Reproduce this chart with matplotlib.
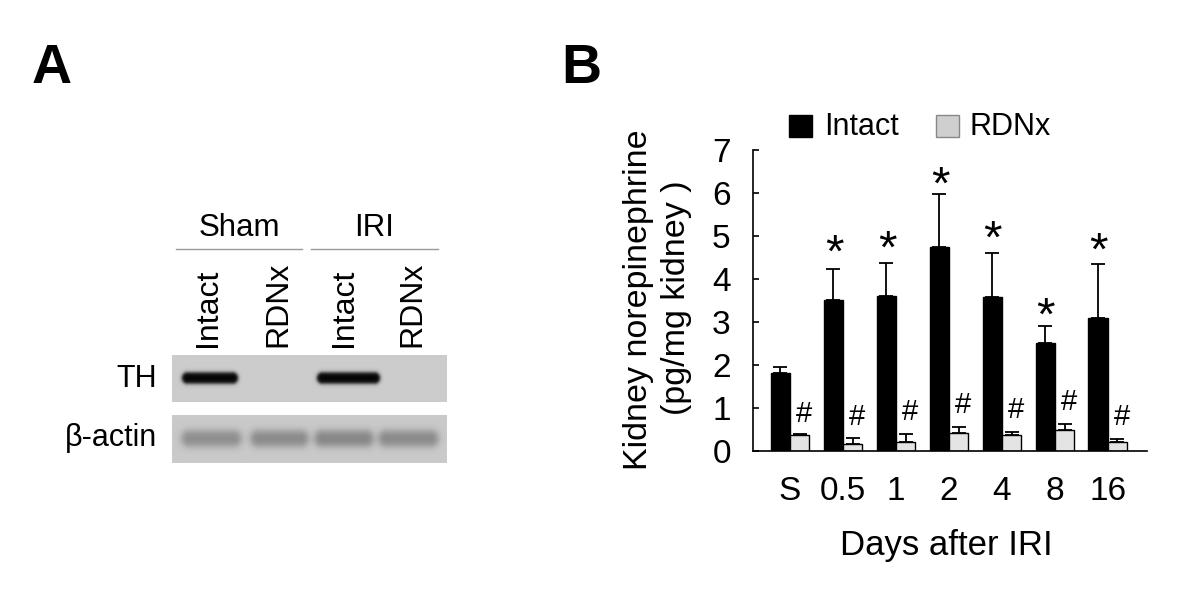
import numpy as np
import matplotlib
matplotlib.use("Agg")
import matplotlib.pyplot as plt
from matplotlib.patches import Rectangle

plt.rcParams['font.family'] = ['Liberation Sans', 'DejaVu Sans']

# ---------------- data ----------------
days = ["S", "0.5", "1", "2", "4", "8", "16"]
intact_mean = [1.81, 3.51, 3.60, 4.74, 3.58, 2.51, 3.09]
intact_err = [0.15, 0.73, 0.77, 1.23, 1.03, 0.39, 1.26]
rdnx_mean = [0.37, 0.17, 0.21, 0.42, 0.38, 0.49, 0.20]
rdnx_err = [0.02, 0.14, 0.18, 0.14, 0.06, 0.14, 0.08]
star_y = [None, 4.79, 4.88, 6.38, 5.11, 3.33, 4.84]
hash_y = [0.90, 0.83, 0.94, 1.11, 0.98, 1.17, 0.83]
series_names = ["Intact", "RDNx"]
y_ticks = [0, 1, 2, 3, 4, 5, 6, 7]

blot_groups = ["Sham", "IRI"]
blot_lanes = ["Intact", "RDNx", "Intact", "RDNx"]
th_intensity = [1.0, 0.0, 1.0, 0.0]
actin_intensity = [0.30, 0.32, 0.34, 0.32]

W, H = 1200, 591
fig = plt.figure(figsize=(W / 100, H / 100), dpi=100)


def fx(x):
    return x / W


def fy(y):
    return 1 - y / H


def rect(x0, y0, x1, y1):
    return [fx(x0), fy(y1), fx(x1) - fx(x0), fy(y0) - fy(y1)]


# ---------------- panel labels ----------------
fig.text(fx(32), fy(83), "A", fontsize=40, fontweight="bold", ha="left", va="baseline")
fig.text(fx(561), fy(83), "B", fontsize=40, fontweight="bold", ha="left", va="baseline")


# ---------------- panel A: blot ----------------
def make_strip(width_px, height_px, lanes, intensities, half_h, soft, base, dark):
    xs = np.arange(width_px)[None, :] + 0.5
    ys = np.arange(height_px)[:, None] + 0.5
    img = np.full((height_px, width_px), base, dtype=float)
    yc = height_px / 2.0
    for (l0, l1), inten in zip(lanes, intensities):
        if inten <= 0:
            continue
        xc = (l0 + l1) / 2.0
        hw = (l1 - l0) / 2.0
        d = np.maximum(0, np.abs(xs - xc) - (hw - half_h))
        r = np.sqrt(d ** 2 + (ys - yc) ** 2)
        prof = 1 / (1 + np.exp(-(half_h - r) / soft))
        img = img - inten * (base - dark) * prof
    return img


strip_left, strip_right = 172, 447
th_lanes = [(182, 238), (252, 307), (317, 380), (382, 437)]
th_rel = [(a - strip_left, b - strip_left) for a, b in th_lanes]
img_th = make_strip(strip_right - strip_left, 402 - 355, th_rel, th_intensity,
                    5.5, 1.0, 0.80, 0.02)
ax_th = fig.add_axes(rect(strip_left, 355, strip_right, 402))
ax_th.imshow(img_th, cmap="gray", vmin=0, vmax=1, aspect="auto", interpolation="bilinear")
ax_th.axis("off")

actin_lanes = [(182, 241), (251, 308), (315, 373), (379, 438)]
ac_rel = [(a - strip_left, b - strip_left) for a, b in actin_lanes]
img_ac = make_strip(strip_right - strip_left, 463 - 415, ac_rel, actin_intensity,
                    7.5, 2.2, 0.79, 0.0)
ax_ac = fig.add_axes(rect(strip_left, 415, strip_right, 463))
ax_ac.imshow(img_ac, cmap="gray", vmin=0, vmax=1, aspect="auto", interpolation="bilinear")
ax_ac.axis("off")

fig.text(fx(157), fy(379), "TH", fontsize=22, ha="right", va="center")
fig.text(fx(157), fy(438), "β-actin", fontsize=22, ha="right", va="center")

group_spans = [(176, 302), (311, 438)]
for name, (a, b) in zip(blot_groups, group_spans):
    fig.text(fx((a + b) / 2), fy(228), name, fontsize=22.5, ha="center", va="center")
    fig.add_artist(plt.Line2D([fx(a), fx(b)], [fy(249), fy(249)], color="#999999", lw=1.0))

lane_x = [208, 278, 344, 412]
for name, x in zip(blot_lanes, lane_x):
    fig.text(fx(x), fy(347), name, fontsize=23, rotation=90, ha="center", va="bottom")

# ---------------- panel B: bars ----------------
ax = fig.add_axes(rect(753, 150, 1147, 451))
x = np.arange(len(days))
bw = 0.365
ax.bar(x - bw / 2, intact_mean, bw, color="black", edgecolor="black", lw=1.0, zorder=2)
ax.bar(x + bw / 2, rdnx_mean, bw, color="#e4e4e4", edgecolor="black", lw=1.0, zorder=2)
ax.errorbar(x - bw / 2, intact_mean, yerr=[np.zeros(len(x)), intact_err], fmt="none",
            ecolor="black", elinewidth=1.3, capsize=5, capthick=1.3, zorder=1)
ax.errorbar(x + bw / 2, rdnx_mean, yerr=[np.zeros(len(x)), rdnx_err], fmt="none",
            ecolor="black", elinewidth=1.3, capsize=5, capthick=1.3, zorder=3)

for i, sy in enumerate(star_y):
    if sy is not None:
        ax.annotate("*", (x[i] - bw / 2, sy), xytext=(0.5, -7), textcoords="offset points",
                    fontsize=34, ha="center", va="center")
for i, hy in enumerate(hash_y):
    ax.annotate("#", (x[i] + bw / 2 + 0.08, hy), xytext=(0, -1), textcoords="offset points",
                fontsize=21, ha="center", va="center")

ax.set_xlim(-0.70, 6.74)
ax.set_ylim(0, 7)
ax.set_yticks(y_ticks)
ax.set_yticklabels([str(v) for v in y_ticks])
ax.set_xticks(x)
ax.set_xticklabels(days)
ax.tick_params(axis="y", direction="in", length=4, width=1.2, labelsize=24, pad=16)
ax.tick_params(axis="x", length=0, labelsize=24, pad=18)
for s in ["top", "right"]:
    ax.spines[s].set_visible(False)
for s in ["left", "bottom"]:
    ax.spines[s].set_linewidth(1.2)

fig.text(fx(946), fy(545), "Days after IRI", fontsize=25, ha="center", va="center")
fig.text(fx(638), fy(300), "Kidney norepinephrine", fontsize=24.5, rotation=90,
         ha="center", va="center")
fig.text(fx(677), fy(298), "(pg/mg kidney )", fontsize=24.5, rotation=90,
         ha="center", va="center")

# legend
fig.add_artist(Rectangle((fx(789), fy(137)), fx(23), 22 / H, facecolor="black",
                         edgecolor="black", lw=1.0, transform=fig.transFigure))
fig.text(fx(824), fy(127), series_names[0], fontsize=22, ha="left", va="center")
fig.add_artist(Rectangle((fx(936), fy(137)), fx(23), 22 / H, facecolor="#cfcfcf",
                         edgecolor="#888888", lw=1.0, transform=fig.transFigure))
fig.text(fx(970), fy(127), series_names[1], fontsize=22, ha="left", va="center")

fig.savefig("out.png", dpi=100, facecolor="white")
